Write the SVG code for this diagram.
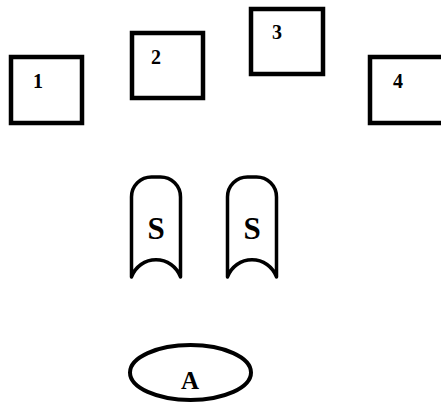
<svg xmlns="http://www.w3.org/2000/svg" width="441" height="406" viewBox="0 0 441 406">
<style>
.box{fill:#fff;stroke:#000;stroke-width:4.5}
.sh{fill:#fff;stroke:#000;stroke-width:3.5;stroke-linejoin:round}
.el{fill:#fff;stroke:#000;stroke-width:4}
.t{font-family:"Liberation Serif","Times New Roman",serif;font-weight:bold;text-anchor:middle;fill:#000}
.n{font-size:20px}
.s{font-size:31px}
.a{font-size:25px}
</style>
<rect width="441" height="406" fill="#fff"/>
<g id="node1"><rect class="box" x="11" y="57" width="71" height="66"/><text class="t n" x="38" y="88">1</text></g>
<g id="node2"><rect class="box" x="132" y="33" width="71" height="65"/><text class="t n" x="156" y="64">2</text></g>
<g id="node3"><rect class="box" x="251" y="9" width="72" height="65"/><text class="t n" x="277" y="39">3</text></g>
<g id="node4"><rect class="box" x="370" y="57" width="74" height="66"/><text class="t n" x="398" y="88">4</text></g>
<g id="nodeS1"><path class="sh" d="M131.5 277 V197 A20 20 0 0 1 151.5 177 H160.5 A20 20 0 0 1 180.5 197 V277 A26 26 0 0 0 131.5 277 Z"/><text class="t s" x="156" y="239">S</text></g>
<g id="nodeS2"><path class="sh" d="M227.5 277 V197 A20 20 0 0 1 247.5 177 H256.5 A20 20 0 0 1 276.5 197 V277 A26 26 0 0 0 227.5 277 Z"/><text class="t s" x="252" y="239">S</text></g>
<g id="nodeA"><ellipse class="el" cx="190.5" cy="372.5" rx="60.5" ry="27.5"/><text class="t a" x="190" y="389">A</text></g>
<g id="connectors"></g>
</svg>
